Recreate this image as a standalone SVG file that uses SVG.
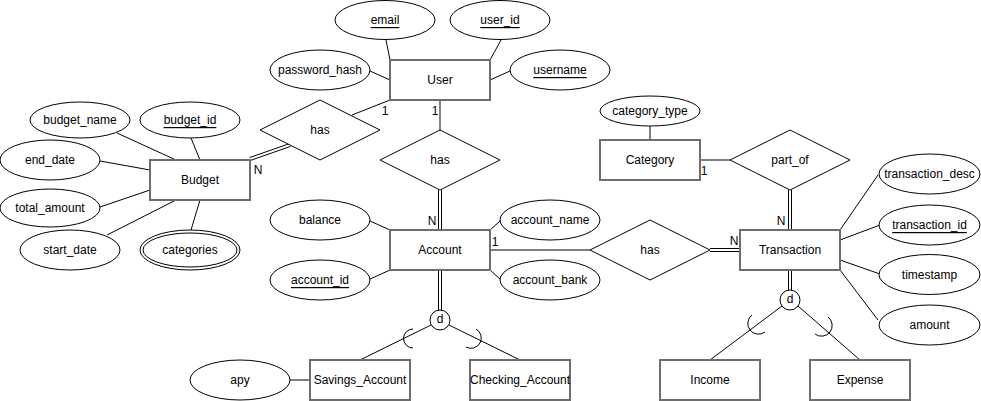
<svg xmlns="http://www.w3.org/2000/svg" width="981" height="401" viewBox="0 0 981 401">
<style>
text{font-family:"Liberation Sans",Arial,sans-serif;font-size:12px;fill:#000;}
.c{text-anchor:middle;dominant-baseline:central;}
.u{text-decoration:underline;}
.ent{fill:#fff;stroke:#6e6e6e;stroke-width:1.2;shape-rendering:crispEdges;}
.att{fill:#fff;stroke:#000;stroke-width:1;}
.rel{fill:#fff;stroke:#000;stroke-width:1;}
.ln{stroke:#000;stroke-width:1;fill:none;}
</style>
<rect width="981" height="401" fill="#fff"/>
<g id="connectors">
<line class="ln" x1="117" y1="133" x2="176" y2="160"/>
<line class="ln" x1="191" y1="138" x2="200" y2="160"/>
<line class="ln" x1="100" y1="161" x2="150" y2="170"/>
<line class="ln" x1="100" y1="207" x2="150" y2="190"/>
<line class="ln" x1="107" y1="235" x2="176" y2="200"/>
<line class="ln" x1="200" y1="200" x2="191" y2="230"/>
<line class="ln" x1="386" y1="40" x2="390" y2="60"/>
<line class="ln" x1="501" y1="40" x2="490" y2="60"/>
<line class="ln" x1="370" y1="71" x2="390" y2="80"/>
<line class="ln" x1="510" y1="71" x2="490" y2="80"/>
<line class="ln" x1="249.5" y1="157.6" x2="289.5" y2="143.6"/>
<line class="ln" x1="250.5" y1="160.4" x2="290.5" y2="146.4"/>
<line class="ln" x1="352" y1="115" x2="390" y2="100"/>
<line class="ln" x1="440" y1="100" x2="440" y2="130"/>
<line class="ln" x1="438.5" y1="190" x2="438.5" y2="230"/>
<line class="ln" x1="441.5" y1="190" x2="441.5" y2="230"/>
<line class="ln" x1="370" y1="221" x2="390" y2="230"/>
<line class="ln" x1="370" y1="279" x2="390" y2="270"/>
<line class="ln" x1="500" y1="221" x2="490" y2="230"/>
<line class="ln" x1="490" y1="270" x2="500" y2="279"/>
<line class="ln" x1="490" y1="250" x2="590" y2="250"/>
<line class="ln" x1="710" y1="248.5" x2="740" y2="248.5"/>
<line class="ln" x1="710" y1="251.5" x2="740" y2="251.5"/>
<line class="ln" x1="438.5" y1="270" x2="438.5" y2="310"/>
<line class="ln" x1="441.5" y1="270" x2="441.5" y2="310"/>
<line class="ln" x1="431" y1="325" x2="360" y2="360"/>
<line class="ln" x1="449" y1="325" x2="520" y2="360"/>
<path class="ln" d="M413,329 A9.5,9.5 0 0 0 413,348"/>
<path class="ln" d="M476,329 A9.5,9.5 0 0 1 466,347"/>
<line class="ln" x1="290" y1="380" x2="310" y2="380"/>
<line class="ln" x1="650" y1="126" x2="650" y2="140"/>
<line class="ln" x1="700" y1="160" x2="730" y2="160"/>
<line class="ln" x1="788.5" y1="190" x2="788.5" y2="230"/>
<line class="ln" x1="791.5" y1="190" x2="791.5" y2="230"/>
<line class="ln" x1="840" y1="230" x2="878" y2="175"/>
<line class="ln" x1="840" y1="240" x2="880" y2="225"/>
<line class="ln" x1="840" y1="260" x2="880" y2="274"/>
<line class="ln" x1="840" y1="270" x2="878" y2="320"/>
<line class="ln" x1="788.5" y1="270" x2="788.5" y2="290"/>
<line class="ln" x1="791.5" y1="270" x2="791.5" y2="290"/>
<line class="ln" x1="782" y1="306" x2="710" y2="360"/>
<line class="ln" x1="798" y1="306" x2="860" y2="360"/>
<path class="ln" d="M752,315 A9.5,9.5 0 0 0 765,332"/>
<path class="ln" d="M828,317 A9.5,9.5 0 0 1 815,334"/>
<text x="258" y="170" class="c">N</text>
<text x="385" y="111" class="c">1</text>
<text x="435" y="111" class="c">1</text>
<text x="432" y="221" class="c">N</text>
<text x="495" y="242" class="c">1</text>
<text x="734" y="241" class="c">N</text>
<text x="781" y="221" class="c">N</text>
<text x="704" y="171" class="c">1</text>
</g>
<g id="user"><rect class="ent" x="390" y="60" width="100" height="40"/><text x="440" y="80" class="c">User</text></g>
<g id="email"><ellipse class="att" cx="385" cy="20" rx="50" ry="19.5"/><text x="385" y="20" class="c u">email</text></g>
<g id="user_id"><ellipse class="att" cx="500" cy="20" rx="50" ry="19.5"/><text x="500" y="20" class="c u">user_id</text></g>
<g id="password_hash"><ellipse class="att" cx="320" cy="70" rx="50" ry="20"/><text x="320" y="70" class="c">password_hash</text></g>
<g id="username"><ellipse class="att" cx="560" cy="70" rx="50" ry="20"/><text x="560" y="70" class="c u">username</text></g>
<g id="has_budget"><polygon class="rel" points="260,130 320,100 380,130 320,160"/><text x="320" y="130" class="c">has</text></g>
<g id="has_account"><polygon class="rel" points="380,160 440,130 500,160 440,190"/><text x="440" y="160" class="c">has</text></g>
<g id="budget"><rect class="ent" x="150" y="160" width="100" height="40"/><text x="200" y="180" class="c">Budget</text></g>
<g id="budget_name"><ellipse class="att" cx="80" cy="120" rx="50" ry="18"/><text x="80" y="120" class="c">budget_name</text></g>
<g id="budget_id"><ellipse class="att" cx="190" cy="120" rx="50" ry="18"/><text x="190" y="120" class="c u">budget_id</text></g>
<g id="end_date"><ellipse class="att" cx="50" cy="160" rx="50" ry="20"/><text x="50" y="160" class="c">end_date</text></g>
<g id="total_amount"><ellipse class="att" cx="50" cy="208" rx="50" ry="19"/><text x="50" y="208" class="c">total_amount</text></g>
<g id="start_date"><ellipse class="att" cx="70" cy="250" rx="50" ry="20"/><text x="70" y="250" class="c">start_date</text></g>
<g id="categories"><ellipse class="att" cx="190" cy="250" rx="50" ry="20"/><ellipse class="att" cx="190" cy="250" rx="47" ry="17"/><text x="190" y="250" class="c">categories</text></g>
<g id="account"><rect class="ent" x="390" y="230" width="100" height="40"/><text x="440" y="250" class="c">Account</text></g>
<g id="balance"><ellipse class="att" cx="320" cy="220" rx="50" ry="20"/><text x="320" y="220" class="c">balance</text></g>
<g id="account_id"><ellipse class="att" cx="320" cy="280" rx="50" ry="20"/><text x="320" y="280" class="c u">account_id</text></g>
<g id="account_name"><ellipse class="att" cx="550" cy="220" rx="50" ry="20"/><text x="550" y="220" class="c">account_name</text></g>
<g id="account_bank"><ellipse class="att" cx="550" cy="280" rx="50" ry="20"/><text x="550" y="280" class="c">account_bank</text></g>
<g id="d_account"><circle class="att" cx="440" cy="320" r="10"/><text x="440" y="319" class="c">d</text></g>
<g id="savings"><rect class="ent" x="310" y="360" width="100" height="40"/><text x="360" y="380" class="c">Savings_Account</text></g>
<g id="checking"><rect class="ent" x="470" y="360" width="100" height="40"/><text x="520" y="380" class="c">Checking_Account</text></g>
<g id="apy"><ellipse class="att" cx="240" cy="380" rx="50" ry="20"/><text x="240" y="380" class="c">apy</text></g>
<g id="has_transaction"><polygon class="rel" points="590,250 650,220 710,250 650,280"/><text x="650" y="250" class="c">has</text></g>
<g id="transaction"><rect class="ent" x="740" y="230" width="100" height="40"/><text x="790" y="250" class="c">Transaction</text></g>
<g id="category"><rect class="ent" x="600" y="140" width="100" height="40"/><text x="650" y="160" class="c">Category</text></g>
<g id="category_type"><ellipse class="att" cx="650" cy="111" rx="50" ry="15"/><text x="650" y="111" class="c">category_type</text></g>
<g id="part_of"><polygon class="rel" points="730,160 790,130 850,160 790,190"/><text x="790" y="160" class="c">part_of</text></g>
<g id="transaction_desc"><ellipse class="att" cx="929.5" cy="174" rx="50.5" ry="20"/><text x="929.5" y="174" class="c">transaction_desc</text></g>
<g id="transaction_id"><ellipse class="att" cx="929.5" cy="225" rx="50.5" ry="20"/><text x="929.5" y="225" class="c u">transaction_id</text></g>
<g id="timestamp"><ellipse class="att" cx="929.5" cy="274.5" rx="50.5" ry="20"/><text x="929.5" y="274.5" class="c">timestamp</text></g>
<g id="amount"><ellipse class="att" cx="929.5" cy="325" rx="50.5" ry="20"/><text x="929.5" y="325" class="c">amount</text></g>
<g id="d_transaction"><circle class="att" cx="790" cy="300" r="10"/><text x="790" y="299" class="c">d</text></g>
<g id="income"><rect class="ent" x="660" y="360" width="100" height="40"/><text x="710" y="380" class="c">Income</text></g>
<g id="expense"><rect class="ent" x="810" y="360" width="100" height="40"/><text x="860" y="380" class="c">Expense</text></g>
</svg>
